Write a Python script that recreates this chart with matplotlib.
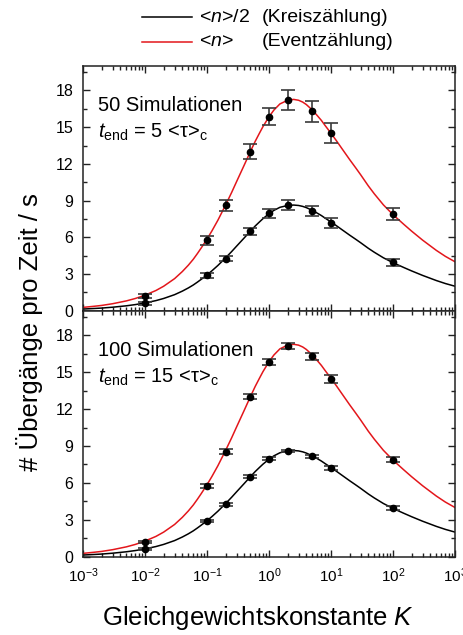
import matplotlib
matplotlib.use("Agg")
import matplotlib.pyplot as plt
from matplotlib.lines import Line2D
from matplotlib.ticker import MultipleLocator, LogLocator, NullFormatter

plt.rcParams["font.family"] = ["Liberation Sans", "DejaVu Sans"]
plt.rcParams["mathtext.fontset"] = "custom"
plt.rcParams["mathtext.rm"] = "Liberation Sans"
plt.rcParams["mathtext.it"] = "Liberation Sans:italic"
plt.rcParams["mathtext.bf"] = "Liberation Sans:bold"

# Equilibrium constants of the simulated systems
K_points = [0.01, 0.1, 0.2, 0.5, 1, 2, 5, 10, 100]

# Panel 1: 50 simulations, t_end = 5 <tau>_c
events_50 = [1.2, 5.75, 8.6, 13.0, 15.85, 17.2, 16.3, 14.5, 7.9]
events_50_err = [0.15, 0.34, 0.48, 0.6, 0.68, 0.8, 0.85, 0.82, 0.49]
circles_50 = [0.6, 2.9, 4.25, 6.5, 7.95, 8.6, 8.15, 7.2, 3.95]
circles_50_err = [0.1, 0.2, 0.22, 0.3, 0.34, 0.41, 0.41, 0.41, 0.27]

# Panel 2: 100 simulations, t_end = 15 <tau>_c
events_100 = [1.2, 5.75, 8.55, 13.0, 15.85, 17.15, 16.3, 14.45, 7.9]
events_100_err = [0.08, 0.14, 0.18, 0.2, 0.25, 0.26, 0.27, 0.29, 0.19]
circles_100 = [0.6, 2.9, 4.25, 6.5, 7.95, 8.6, 8.15, 7.2, 3.95]
circles_100_err = [0.07, 0.1, 0.12, 0.12, 0.12, 0.11, 0.14, 0.15, 0.14]

# Theoretical transition rates
curve_K = [1e-3, 1.5e-3, 2e-3, 3e-3, 5e-3, 7e-3,
           1e-2, 1.5e-2, 2e-2, 3e-2, 4e-2, 5e-2, 6e-2, 7e-2, 8e-2,
           0.1, 0.12, 0.15, 0.2, 0.25, 0.3, 0.4, 0.5, 0.6, 0.7, 0.8,
           1.0, 1.2, 1.5, 2.0, 2.5, 3.0, 3.5, 4.0, 5.0, 6.0, 7.0, 8.0,
           10, 12, 15, 20, 25, 30, 40, 50, 70,
           100, 150, 200, 300, 500, 700, 1000]
curve_n = [0.27, 0.36, 0.43, 0.57, 0.80, 1.0,
           1.27, 1.65, 2.0, 2.62, 3.2, 3.72, 4.2, 4.67, 5.1,
           5.85, 6.52, 7.4, 8.65, 9.67, 10.55, 11.92, 13.0, 13.85, 14.5, 15.05,
           15.85, 16.4, 16.9, 17.2, 17.27, 17.2, 17.05, 16.85, 16.4, 15.95,
           15.55, 15.15,
           14.5, 13.95, 13.25, 12.35, 11.68, 11.12, 10.2, 9.55, 8.65,
           7.85, 7.05, 6.5, 5.77, 4.93, 4.44, 4.0]
curve_half_n = [0.135, 0.18, 0.215, 0.285, 0.40, 0.50,
                0.635, 0.825, 1.0, 1.31, 1.6, 1.86, 2.1, 2.335, 2.55,
                2.925, 3.26, 3.7, 4.325, 4.835, 5.275, 5.96, 6.5, 6.925,
                7.25, 7.525,
                7.925, 8.2, 8.45, 8.6, 8.635, 8.6, 8.525, 8.425, 8.2, 7.975,
                7.775, 7.575,
                7.25, 6.975, 6.625, 6.175, 5.84, 5.56, 5.1, 4.775, 4.325,
                3.925, 3.525, 3.25, 2.885, 2.465, 2.22, 2.0]

x_ticks = [1e-3, 1e-2, 1e-1, 1e0, 1e1, 1e2, 1e3]

RED = "#e3161b"
W, H = 464, 635

fig = plt.figure(figsize=(W / 100, H / 100), dpi=100)
ax_top = fig.add_axes([83 / W, (H - 310.7) / H, 372 / W, 244.7 / H])
ax_bot = fig.add_axes([83 / W, (H - 556.7) / H, 372 / W, 246.0 / H])

panels = [
    (ax_top, events_50, events_50_err, circles_50, circles_50_err,
     "50 Simulationen", r"$t_{\mathrm{end}}$ = 5 <τ>$_{\mathrm{c}}$"),
    (ax_bot, events_100, events_100_err, circles_100, circles_100_err,
     "100 Simulationen", r"$t_{\mathrm{end}}$ = 15 <τ>$_{\mathrm{c}}$"),
]

for ax, ev, ev_err, ci, ci_err, title, tend in panels:
    ax.set_xscale("log")
    ax.plot(curve_K, curve_n, color=RED, lw=1.1, zorder=2)
    ax.plot(curve_K, curve_half_n, color="black", lw=1.1, zorder=2)
    for vals, errs in ((ev, ev_err), (ci, ci_err)):
        ax.errorbar(K_points, vals, yerr=errs, fmt="o", color="black",
                    ms=4.5, ecolor="#3a3a3a", elinewidth=1.2, capsize=4.8,
                    capthick=1.2, zorder=3)
    ax.set_xlim(1e-3, 1e3)
    ax.set_ylim(0, 20)
    ax.set_xticks(x_ticks)
    ax.xaxis.set_minor_locator(LogLocator(base=10, subs=range(2, 10), numticks=100))
    ax.xaxis.set_minor_formatter(NullFormatter())
    ax.yaxis.set_major_locator(MultipleLocator(3))
    ax.yaxis.set_minor_locator(MultipleLocator(1.5))
    ax.tick_params(which="both", direction="in", top=True, right=True,
                   width=1.0, colors="#222222", labelcolor="black")
    ax.tick_params(which="major", length=5, labelsize=11.5)
    ax.tick_params(axis="y", which="major", pad=7)
    ax.tick_params(axis="x", which="major", pad=7, labelsize=11)
    ax.tick_params(which="minor", length=3)
    for sp in ax.spines.values():
        sp.set_linewidth(1.1)
        sp.set_color("#222222")
    ax.text(0.04, 0.817, title, transform=ax.transAxes, fontsize=14.5,
            va="baseline", ha="left")
    ax.text(0.04, 0.709, tend, transform=ax.transAxes, fontsize=14.5,
            va="baseline", ha="left")

ax_top.tick_params(labelbottom=False)

# Legend drawn above the panels
for y_px, col, lab1, lab2 in ((17, "black", r"<$n$>/2", "(Kreiszählung)"),
                              (42, RED, r"<$n$>", "(Eventzählung)")):
    yf = 1 - y_px / H
    fig.add_artist(Line2D([142 / W, 192 / W], [yf, yf], color=col, lw=1.1))
    fig.text(199 / W, yf, lab1, fontsize=14, va="center", ha="left")
    fig.text(262 / W, yf, lab2, fontsize=14, va="center", ha="left")

fig.text(30 / W, 1 - 332 / H, "# Übergänge pro Zeit / s", rotation=90,
         fontsize=18.5, ha="center", va="center")
fig.text(258 / W, 1 - 618 / H, r"Gleichgewichtskonstante $K$",
         fontsize=18.5, ha="center", va="center")

fig.savefig("out.png", dpi=100)
